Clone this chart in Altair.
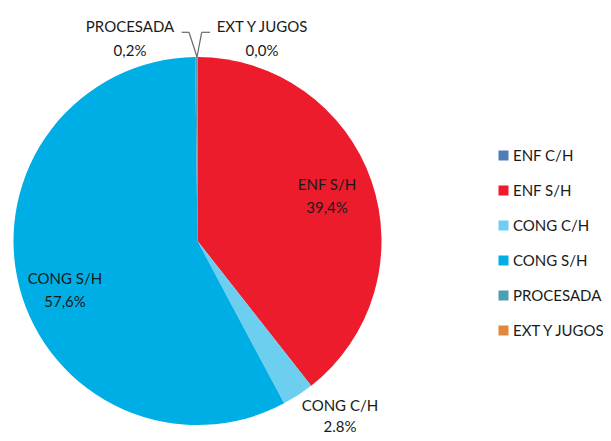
import altair as alt
import pandas as pd

categories = ["ENF C/H", "ENF S/H", "CONG C/H", "CONG S/H", "PROCESADA", "EXT Y JUGOS"]
values = [0.0, 39.4, 2.8, 57.6, 0.2, 0.0]
colors = ["#4F7DB8", "#EC1C2D", "#6DCFF0", "#00AEE6", "#4A9FB5", "#E0893D"]

label_cats = ["ENF S/H", "CONG S/H", "CONG C/H", "PROCESADA", "EXT Y JUGOS"]
label_pcts = ["39,4%", "57,6%", "2.8%", "0,2%", "0,0%"]

# layout (plot-area pixels) for the data labels
label_pos = {
    "ENF S/H": (319, 181.5),
    "CONG S/H": (57, 275.5),
    "CONG C/H": (332, 403),
    "PROCESADA": (122, 24),
    "EXT Y JUGOS": (254, 24),
}

CX, CY, R = 189.5, 233, 184

df = pd.DataFrame({"category": categories, "value": values, "order": list(range(len(categories)))})

lab = pd.DataFrame({
    "text": [f"{c}\n{p}" for c, p in zip(label_cats, label_pcts)],
    "px": [label_pos[c][0] for c in label_cats],
    "py": [label_pos[c][1] for c in label_cats],
    "low": [False, False, True, False, False],
})

# leader lines (V connector for the two tiny slices at the top)
top_y = CY - R
seg = pd.DataFrame({
    "x": [173.7, 181, 189, 193.7],
    "y": [24.3, 24.3, top_y, 24.3],
    "x2": [181, 189, 193.7, 202],
    "y2": [24.3, top_y, 24.3, 24.3],
})

FONT = "Lato"
TXT = "#1A1A1A"

pie = alt.Chart(df).mark_arc(outerRadius=R, strokeWidth=0).encode(
    theta=alt.Theta("value:Q", stack=True),
    color=alt.Color(
        "category:N",
        scale=alt.Scale(domain=categories, range=colors),
        sort=categories,
        legend=alt.Legend(
            title=None, orient="none", legendX=488, legendY=140,
            symbolType="square", symbolSize=100, symbolStrokeWidth=0,
            labelFont=FONT, labelFontSize=15, labelColor=TXT,
            rowPadding=19, labelOffset=2, labelLimit=200,
        ),
    ),
    order=alt.Order("order:Q"),
    x=alt.value(CX),
    y=alt.value(CY),
)

base_text = dict(font=FONT, fontSize=15, color=TXT, align="center",
                 baseline="alphabetic", lineBreak="\n")

labels_main = alt.Chart(lab).transform_filter("!datum.low").mark_text(
    lineHeight=23.5, **base_text
).encode(
    x=alt.X("px:Q", scale=None),
    y=alt.Y("py:Q", scale=None),
    text="text:N",
)

labels_low = alt.Chart(lab).transform_filter("datum.low").mark_text(
    lineHeight=20.5, **base_text
).encode(
    x=alt.X("px:Q", scale=None),
    y=alt.Y("py:Q", scale=None),
    text="text:N",
)

lines = alt.Chart(seg).mark_rule(color="#6A6A6A", strokeWidth=1.2).encode(
    x=alt.X("x:Q", scale=None),
    y=alt.Y("y:Q", scale=None),
    x2="x2:Q",
    y2="y2:Q",
)

chart = alt.layer(pie, lines, labels_main, labels_low).properties(
    width=595, height=425, padding=0,
    autosize=alt.AutoSizeParams(type="fit", contains="padding"),
).configure_view(stroke=None)

chart.save("out.html", embed_options={"renderer": "svg", "actions": False})
